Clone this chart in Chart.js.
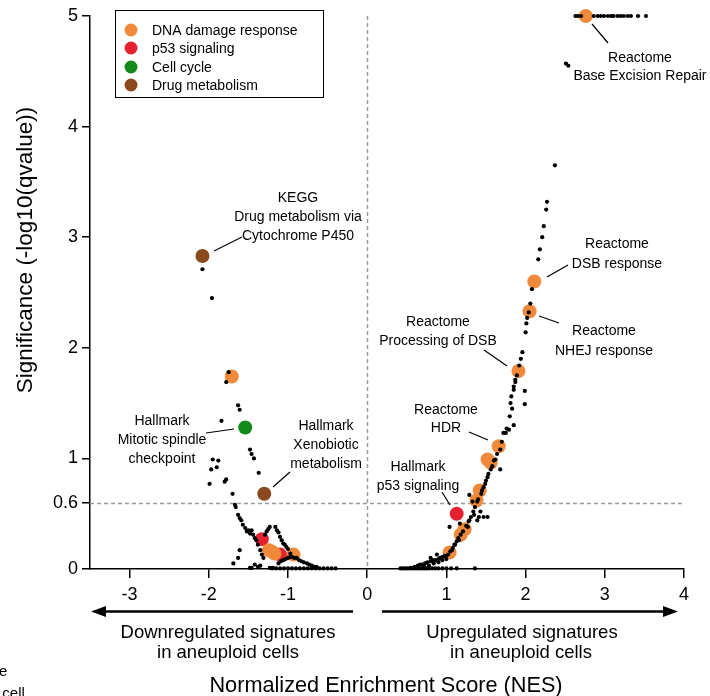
<!DOCTYPE html>
<html><head><meta charset="utf-8">
<script src="https://cdn.jsdelivr.net/npm/chart.js@4/dist/chart.umd.min.js"></script>
<style>html,body{margin:0;padding:0;background:#fff}#wrap{width:710px;height:696px;position:relative}</style>
</head><body><div id="wrap"><canvas id="c" width="710" height="696"></canvas></div>
<script>
// ---------- data ----------
const xTicks = [-3, -2, -1, 0, 1, 2, 3, 4];
const yTicks = [0, 0.6, 1, 2, 3, 4, 5];
const thresholdSig = 0.6;
const categories = ['DNA damage response', 'p53 signaling', 'Cell cycle', 'Drug metabolism'];
const colors = ['#F08A3A', '#E52330', '#148A1C', '#8A4A1E'];

// [NES, -log10(q)]
const dnaDamage = [[2.76,5.0],[-1.71,1.74],[-1.24,0.17],[-1.20,0.155],[-1.17,0.14],[-0.93,0.13],
  [2.11,2.60],[2.05,2.33],[1.91,1.79],[1.66,1.11],[1.52,0.99],[1.56,0.96],[1.42,0.71],[1.38,0.62],
  [1.23,0.36],[1.18,0.31],[1.04,0.15]];
const p53Signaling = [[-1.33,0.27],[-1.10,0.13],[1.13,0.50]];
const cellCycle = [[-1.54,1.28]];
const drugMetabolism = [[-2.08,2.83],[-1.30,0.68]];

const otherLeft = [[-2.08,2.71],[-1.96,2.45],[-1.75,1.78],[-1.78,1.69],[-1.63,1.48],[-1.61,1.44],[-1.84,1.34],
  [-1.48,1.08],[-1.46,1.04],[-1.43,1.00],[-1.95,0.99],[-1.88,0.98],[-1.90,0.92],[-1.97,0.90],[-1.37,0.87],
  [-1.78,0.81],[-1.80,0.79],[-1.99,0.77],[-1.70,0.68],[-1.67,0.58],[-1.66,0.56],[-1.63,0.49],[-1.61,0.46],
  [-1.59,0.44],[-1.57,0.40],[-1.54,0.37],[-1.52,0.34],[-1.50,0.35],[-1.46,0.35],[-1.44,0.31],[-1.48,0.32],
  [-1.42,0.28],[-1.40,0.26],[-1.38,0.22],[-1.35,0.17],[-1.33,0.13],[-1.31,0.10],[-1.61,0.17],[-1.63,0.10],
  [-1.69,0.05],[-1.29,0.31],[-1.27,0.34],[-1.25,0.36],[-1.23,0.38],[-1.16,0.38],[-1.14,0.35],[-1.12,0.33],
  [-1.10,0.29],[-1.08,0.26],[-1.06,0.23],[-1.04,0.22],[-1.02,0.20],[-1.00,0.18],[-0.97,0.14],[-1.42,0.04],
  [-1.38,0.02],[-1.35,0.03],[-1.48,0.01],[-1.46,0.01],[-1.12,0.05],[-1.09,0.07],[-1.06,0.08],[-1.03,0.09],
  [-1.00,0.10],[-0.97,0.11],[-0.95,0.11],[-0.92,0.10],[-0.89,0.10],[-0.86,0.08],[-0.83,0.07],[-0.80,0.06],
  [-0.76,0.05],[-0.73,0.04],[-0.70,0.03],[-0.67,0.02],[-0.64,0.02],[-1.19,0.01],
  [-1.23,0.01],[-1.20,0.005],[-1.15,0.005],[-1.10,0.005],[-1.05,0.005],[-1.00,0.005],[-0.95,0.005],
  [-0.90,0.005],[-0.85,0.005],[-0.80,0.005],[-0.75,0.005],[-0.70,0.005],[-0.65,0.005],[-0.60,0.005],
  [-0.55,0.005],[-0.50,0.005],[-0.45,0.005],[-0.40,0.005]];

const otherRight = [[2.51,4.57],[2.54,4.55],
  [2.63,5],[2.66,5],[2.70,5],[2.86,5],[2.91,5],[2.95,5],[2.99,5],[3.04,5],[3.08,5],[3.11,5],[3.16,5],
  [3.20,5],[3.24,5],[3.29,5],[3.33,5],[3.42,5],[3.52,5],
  [2.37,3.65],[2.27,3.32],[2.26,3.25],[2.23,3.10],[2.21,3.00],[2.18,2.89],[2.16,2.80],[2.08,2.53],
  [2.06,2.40],[2.04,2.32],[2.02,2.27],[2.01,2.22],[2.00,2.14],[1.96,1.96],[1.87,1.71],[1.85,1.65],
  [1.87,1.69],[1.85,1.62],[1.82,1.56],[1.81,1.50],[1.99,1.61],[1.99,1.49],[1.85,1.30],[1.79,1.26],
  [1.75,1.23],[1.72,1.23],[1.68,1.08],[1.62,0.99],[1.68,0.90],[1.56,0.90],[1.52,0.83],[1.49,0.77],
  [1.45,0.71],[1.29,0.67],[1.33,0.61],[1.39,0.61],[1.35,0.49],[1.43,0.52],[1.47,0.47],[1.52,0.47],
  [1.41,0.47],[1.39,0.44],[1.29,0.44],[1.27,0.38],[1.04,0.38],[1.17,0.41],[1.16,0.26],[1.11,0.22],
  [1.07,0.17],[0.99,0.11],[0.92,0.10],[0.86,0.08],[0.80,0.07],[0.73,0.05],[0.67,0.04],[0.88,0.13],[0.80,0.10],
  [1.02,0.13],[1.05,0.16],[1.08,0.19],[1.10,0.22],[1.13,0.25],[1.15,0.28],[1.18,0.31],[1.21,0.34],
  [1.25,0.39],[1.28,0.43],[1.31,0.47],[1.34,0.52],[1.36,0.56],[1.40,0.63],[1.44,0.68],[1.47,0.74],
  [1.50,0.80],[1.53,0.86],[1.58,0.93],[1.60,0.98],[1.64,1.04],[1.70,1.15],[1.76,1.27],[1.80,1.38],
  [1.83,1.45],[1.89,1.75],[1.92,1.84],[1.94,1.90],
  [0.55,0.01],[0.60,0.02],[0.64,0.03],[0.70,0.04],[0.76,0.06],[0.83,0.08],[0.90,0.09],[0.95,0.11],[0.98,0.12],
  [0.72,0.02],[0.78,0.03],[0.84,0.05],[0.90,0.06],[0.95,0.08],[1.00,0.09],
  [0.42,0.005],[0.45,0.005],[0.48,0.005],[0.51,0.005],[0.54,0.005],[0.57,0.005],[0.60,0.005],[0.63,0.005],
  [0.66,0.005],[0.69,0.005],[0.72,0.005],[0.75,0.005],[0.78,0.005],[0.82,0.005],[0.86,0.005],[0.90,0.005],
  [0.95,0.005],[1.00,0.005],[1.06,0.005],[1.13,0.005],[1.36,0.005]];

// ---------- layout (pixels) ----------
const FONT = '"Liberation Sans", Arial, sans-serif';
const annotations = [
  {lines:['Reactome','Base Excision Repair'], cx:640, cy:[58,76], line:[[592,24],[608,43]]},
  {lines:['KEGG','Drug metabolism via','Cytochrome P450'], cx:298, cy:[198,217,236], line:[[214,251],[242,237]]},
  {lines:['Reactome','DSB response'], cx:617, cy:[244,264], line:[[547,277],[568,265]]},
  {lines:['Reactome','NHEJ response'], cx:604, cy:[331,351], line:[[539,316],[559,323]]},
  {lines:['Reactome','Processing of DSB'], cx:438, cy:[322,341], line:[[484,350],[507,366]]},
  {lines:['Reactome','HDR'], cx:446, cy:[410,428], line:[[469,432],[488,440]]},
  {lines:['Hallmark','p53 signaling'], cx:418, cy:[467,486], line:[[442,492],[450,505]]},
  {lines:['Hallmark','Mitotic spindle','checkpoint'], cx:162, cy:[421,440,459], line:[[206,433],[234,429]]},
  {lines:['Hallmark','Xenobiotic','metabolism'], cx:326, cy:[426,445,464], line:[[273,487],[290,472]]}
];

const toPts = a => a.map(p => ({x:p[0], y:p[1]}));

const overlay = {
  id:'overlay',
  beforeDatasetsDraw(chart){
    const {ctx, scales:{x, y}} = chart;
    ctx.save();
    ctx.strokeStyle = '#9b9b9b'; ctx.lineWidth = 1.5; ctx.setLineDash([4,3]);
    const x0 = Math.round(x.getPixelForValue(0)) + 0.5;
    ctx.beginPath(); ctx.moveTo(x0, y.top); ctx.lineTo(x0, y.bottom); ctx.stroke();
    const yT = Math.round(y.getPixelForValue(thresholdSig)) + 0.5;
    ctx.beginPath(); ctx.moveTo(x.left, yT); ctx.lineTo(x.right, yT); ctx.stroke();
    ctx.restore();
  },
  afterDraw(chart){
    const {ctx} = chart;
    ctx.save();
    ctx.fillStyle = '#000'; ctx.strokeStyle = '#000';
    // annotations
    ctx.font = '14px ' + FONT; ctx.textAlign = 'center'; ctx.textBaseline = 'middle';
    annotations.forEach(a => {
      a.lines.forEach((t,i) => ctx.fillText(t, a.cx, a.cy[i]));
      ctx.lineWidth = 1.2;
      ctx.beginPath(); ctx.moveTo(a.line[0][0], a.line[0][1]); ctx.lineTo(a.line[1][0], a.line[1][1]); ctx.stroke();
    });
    // legend
    ctx.lineWidth = 1; ctx.strokeRect(115.5, 10.5, 208, 87);
    ctx.textAlign = 'left';
    const ly = [30, 48, 67, 85];
    categories.forEach((c,i) => {
      ctx.fillStyle = colors[i];
      ctx.beginPath(); ctx.arc(131, ly[i], 6.5, 0, Math.PI*2); ctx.fill();
      ctx.fillStyle = '#000';
      ctx.fillText(c, 152, ly[i]+1);
    });
    // arrows
    ctx.lineWidth = 2.5;
    ctx.beginPath(); ctx.moveTo(353, 611.5); ctx.lineTo(104, 611.5); ctx.stroke();
    ctx.beginPath(); ctx.moveTo(91, 611.5); ctx.lineTo(106, 606); ctx.lineTo(106, 617); ctx.closePath(); ctx.fill();
    ctx.beginPath(); ctx.moveTo(382, 611.5); ctx.lineTo(665, 611.5); ctx.stroke();
    ctx.beginPath(); ctx.moveTo(678, 611.5); ctx.lineTo(663, 606); ctx.lineTo(663, 617); ctx.closePath(); ctx.fill();
    // arrow captions
    ctx.textAlign = 'center';
    ctx.font = '18.5px ' + FONT;
    ctx.fillText('Downregulated signatures', 228, 633);
    ctx.fillText('in aneuploid cells', 228, 653);
    ctx.fillText('Upregulated signatures', 522, 633);
    ctx.fillText('in aneuploid cells', 521, 653);
    // x title
    ctx.font = '21.7px ' + FONT;
    ctx.fillText('Normalized Enrichment Score (NES)', 386, 686);
    // y title
    ctx.save();
    ctx.font = '22.5px ' + FONT;
    ctx.translate(26, 250); ctx.rotate(-Math.PI/2);
    ctx.fillText('Significance (-log10(qvalue))', 0, 0);
    ctx.restore();
    // cut-off text from neighbouring panel
    ctx.font = '15px ' + FONT; ctx.textAlign = 'left';
    ctx.fillText('e', -1, 672);
    ctx.fillText('. cell', -6, 694);
    ctx.restore();
  }
};

const ptDs = (label, data, color, r, order) => ({
  label, data: toPts(data), backgroundColor: color, borderWidth: 0,
  pointRadius: r, pointHoverRadius: r, clip: false, order
});

new Chart(document.getElementById('c'), {
  type: 'scatter',
  data: {
    datasets: [
      ptDs('Other', otherLeft, '#000', 2.1, 0),
      ptDs('Other up', otherRight, '#000', 2.1, 0),
      ptDs(categories[0], dnaDamage, colors[0], 7, 1),
      ptDs(categories[1], p53Signaling, colors[1], 7, 1),
      ptDs(categories[2], cellCycle, colors[2], 7, 1),
      ptDs(categories[3], drugMetabolism, colors[3], 7, 1)
    ]
  },
  options: {
    responsive: false, animation: false, devicePixelRatio: 1,
    layout: {padding: {top: 16, right: 26, left: 0, bottom: 0}},
    plugins: {legend: {display: false}, tooltip: {enabled: false}},
    scales: {
      x: {
        type: 'linear', min: -3.5, max: 4,
        afterBuildTicks: s => { s.ticks = xTicks.map(v => ({value: v})); },
        afterFit: s => { s.height = 127; },
        ticks: {font: {size: 18, family: FONT}, color: '#000', padding: 6, maxRotation: 0, callback: v => String(v)},
        grid: {drawOnChartArea: false, drawTicks: true, tickLength: 9, color: '#000', lineWidth: 1.5},
        border: {display: true, color: '#000', width: 1.5}
      },
      y: {
        type: 'linear', min: 0, max: 5,
        afterBuildTicks: s => { s.ticks = yTicks.map(v => ({value: v})); },
        afterFit: s => { s.width = 90; },
        ticks: {font: {size: 18, family: FONT}, color: '#000', padding: 4, callback: v => String(v)},
        grid: {drawOnChartArea: false, drawTicks: true, tickLength: 8, color: '#000', lineWidth: 1.5},
        border: {display: true, color: '#000', width: 1.5}
      }
    }
  },
  plugins: [overlay]
});
</script>
</body></html>
